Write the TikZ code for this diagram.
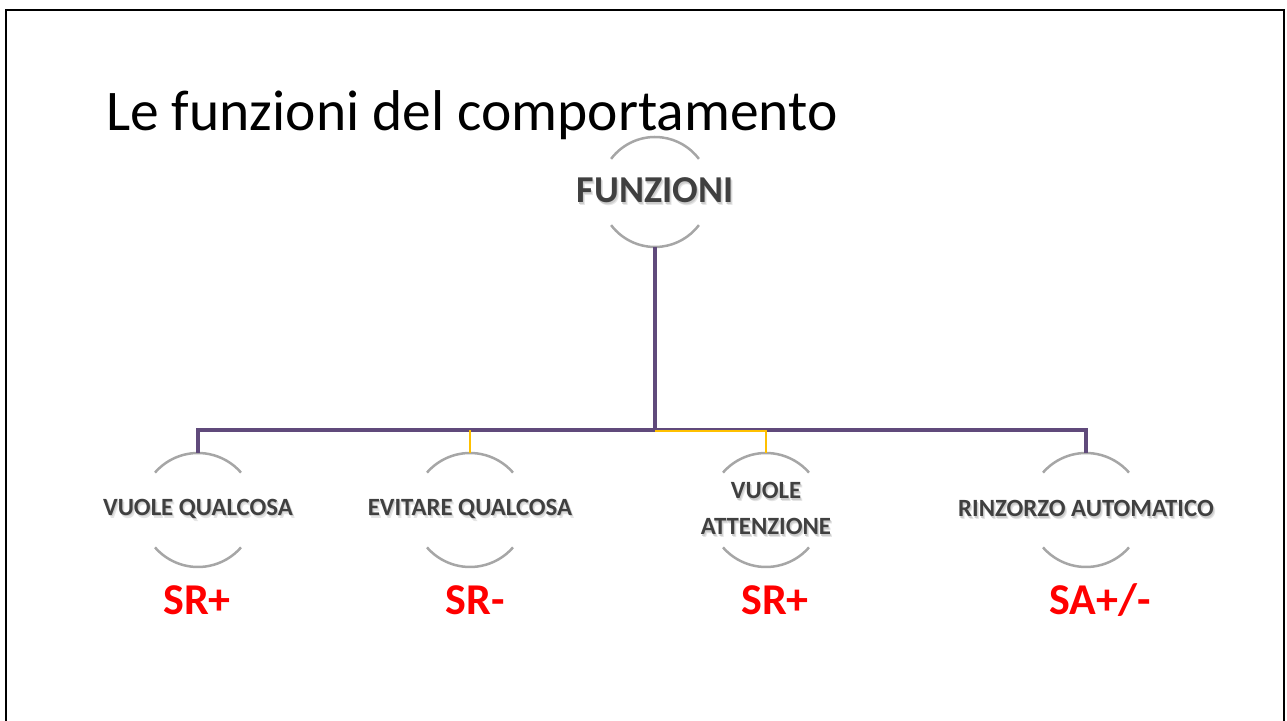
\documentclass[tikz,border=0pt]{standalone}
\usepackage{fontspec}
\setmainfont{Carlito}
\usepackage{xcolor}
\usetikzlibrary{positioning}

\definecolor{treepurple}{HTML}{604A7B}
\definecolor{treeyellow}{HTML}{FFC000}
\definecolor{arcgray}{HTML}{A6A6A6}
\definecolor{labelgray}{HTML}{404040}

% text with a soft grey shadow below it
\newcommand{\shad}[1]{\leavevmode
  \rlap{\hspace{2pt}\raisebox{-3pt}{\color{black!10}#1}}%
  \rlap{\hspace{1pt}\raisebox{-1.6pt}{\color{black!20}#1}}#1}
% label set on the ring centre, nudged down a little
\newcommand{\ringtext}[1]{\makebox[0pt]{\raisebox{-4pt}{#1}}}

\begin{document}
\begin{tikzpicture}[
    x=1pt, y=1pt,
    title/.style={anchor=base west, inner sep=0pt, font=\fontsize{57.5}{62}\selectfont},
    root/.style={circle, minimum size=110pt, inner sep=0pt, outer sep=0pt, text=labelgray, font=\fontsize{38}{44}\selectfont\bfseries},
    leaf/.style={circle, minimum size=114pt, inner sep=0pt, outer sep=0pt, text=labelgray, font=\fontsize{24.8}{35}\selectfont\bfseries},
    code/.style={anchor=base, inner sep=0pt, text=red, font=\fontsize{44}{48}\selectfont\bfseries},
    arcline/.style={arcgray, line width=2.5pt},
    trunk/.style={treepurple, line width=3.6pt},
    branch/.style={treeyellow, line width=2.2pt},
]
    \useasboundingbox (0,0) rectangle (1287,720);
    \draw[black, line width=2.6pt] (6,-10) -- (6,710) -- (1284,710) -- (1284,-10);

    \node[title] (ttl) at (106,589) {Le funzioni del comportamento};

    \node[root] (funz) at (655,528) {\makebox[0pt]{\shad{FUNZIONI}}};
    \node[leaf] (vq) at (198,210) {\ringtext{\shad{VUOLE QUALCOSA}}};
    \node[leaf] (eq) at (470,210) {\ringtext{\shad{EVITARE QUALCOSA}}};
    \node[leaf] (va) at (766,210) {\ringtext{\begin{tabular}{@{}c@{}}\shad{VUOLE}\\[1pt]\shad{ATTENZIONE}\end{tabular}}};
    \node[leaf] (ra) at (1086,210) {\ringtext{\shad{RINZORZO AUTOMATICO}}};

    \node[code] (sra) at (197,105) {SR+};
    \node[code] (srb) at (475,105) {SR-};
    \node[code] (src) at (775,105) {SR+};
    \node[code] (sad) at (1100,105) {SA+/-};

    % half-open rings round the labels
    \draw[arcline] (funz.143) arc[start angle=143, end angle=37, radius=55];
    \draw[arcline] (funz.217) arc[start angle=217, end angle=323, radius=55];
    \foreach \n in {vq, eq, va, ra} {
        \draw[arcline] (\n.139) arc[start angle=139, end angle=41, radius=57];
        \draw[arcline] (\n.221) arc[start angle=221, end angle=319, radius=57];
    }

    \coordinate (bus) at (0,290);
    \draw[trunk] (funz.south) -- (funz.south |- bus);
    \draw[trunk] (vq.north) |- (bus -| ra.north) -- (ra.north);
    \draw[branch] (eq.north) -- (eq.north |- bus);
    \draw[branch] ([yshift=-1pt]funz.south |- bus) -| (va.north);
\end{tikzpicture}
\end{document}
